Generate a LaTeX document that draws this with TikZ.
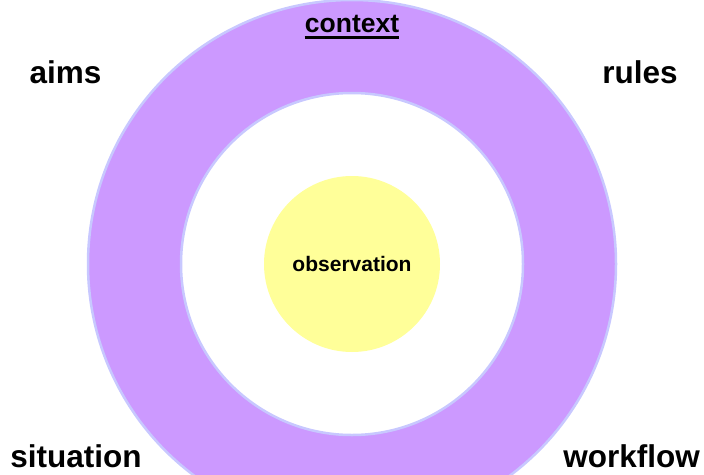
\documentclass[tikz,border=0pt]{standalone}
\usepackage{fontspec}
\setmainfont{Liberation Sans}
\begin{document}
\begin{tikzpicture}[x=1pt,y=-1pt,
  ring/.style={circle, draw=ringline, line width=2.5pt, inner sep=0pt},
  lbl/.style={font=\fontsize{31.5}{36}\selectfont\bfseries, inner sep=0pt, anchor=base},
]
\definecolor{ringline}{HTML}{C8C8FF}
\definecolor{purplefill}{HTML}{CC99FF}
\definecolor{yellowfill}{HTML}{FFFF99}
\useasboundingbox (0,0) rectangle (704,474);
\clip (0,0) rectangle (704,474);
\fill[white] (0,0) rectangle (704,474);
\node[ring, fill=purplefill, minimum size=528pt] (outer) at (352,264) {};
\node[ring, fill=white, minimum size=342pt] (inner) at (352,264) {};
\node[circle, fill=yellowfill, inner sep=0pt, minimum size=176pt] (obs) at (352,264) {};
\node[font=\fontsize{21}{24}\selectfont\bfseries, inner sep=0pt, anchor=base] (obstext) at (352,271) {observation};
\node[font=\fontsize{26.5}{30}\selectfont\bfseries, inner sep=0pt, anchor=base] (ctx) at (352,32.5) {context};
\draw[line width=3pt] ([yshift=-4.5pt]ctx.base west) -- ([yshift=-4.5pt]ctx.base east);
\node[lbl] (aims) at (65.5,83.5) {aims};
\node[lbl] (rules) at (640,83.5) {rules};
\node[lbl] (situation) at (76,467) {situation};
\node[lbl] (workflow) at (631.5,467) {workflow};
\end{tikzpicture}
\end{document}
